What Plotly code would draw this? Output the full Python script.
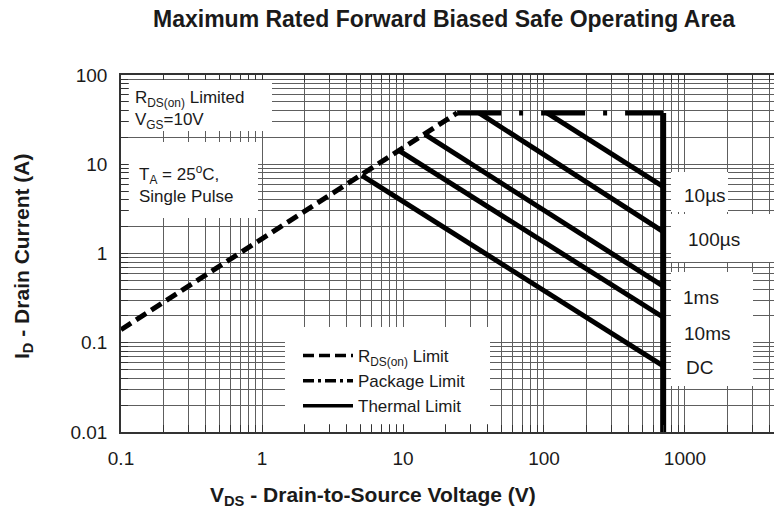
import plotly.graph_objects as go

# values
rds_vds = [0.1, 24.2]      # R_DS(on) limit, V
rds_id = [0.14, 37.6]      # A

pkg_vds = [24.2, 700]      # package limit
pkg_id = [37.6, 37.6]

bv_vds = [700, 700]        # drain voltage edge
bv_id = [37.6, 0.01]

pulse_names = ["10µs", "100µs", "1ms", "10ms", "DC"]
pulse_vds_start = [105, 34.6, 14.3, 9.5, 5.1]
pulse_id_start = [37.6, 37.6, 21.6, 14.0, 7.5]
pulse_vds_end = [700, 700, 700, 700, 700]
pulse_id_end = [5.6, 1.76, 0.43, 0.193, 0.055]

x_labels = ["0.1", "1", "10", "100", "1000"]
y_labels = ["0.01", "0.1", "1", "10", "100"]

FONT = "Arial, Liberation Sans, sans-serif"
INK = "#1a1a1a"

# the page body has an 8px margin, so the figure is drawn 8px smaller
OFF = 8
W, H = 782 - OFF, 515 - OFF
# plot area in page pixels (left, top, right, bottom)
L, T, R, B = 121, 75, 782, 432


def px(x):
    return (x - L) / (R - L)


def py(y):
    return (B - y) / (B - T)


# log grid: every 1..9 x decade
xgrid = [m * 10.0 ** e for e in range(-1, 4) for m in range(1, 10)]
ygrid = [m * 10.0 ** e for e in range(-2, 3) for m in range(1, 10) if m * 10.0 ** e <= 100]
xtext = [x_labels[i // 9] if i % 9 == 0 else "" for i in range(len(xgrid))]
ytext = [y_labels[i // 9] if i % 9 == 0 else "" for i in range(len(ygrid))]

fig = go.Figure()

fig.add_trace(go.Scatter(x=rds_vds, y=rds_id, mode="lines", showlegend=False,
                         line=dict(color="black", width=5, dash="12px,6px")))
fig.add_trace(go.Scatter(x=pkg_vds, y=pkg_id, mode="lines", showlegend=False,
                         line=dict(color="black", width=5, dash="44px,18px,4px,18px")))
for i, name in enumerate(pulse_names):
    fig.add_trace(go.Scatter(x=[pulse_vds_start[i], pulse_vds_end[i]],
                             y=[pulse_id_start[i], pulse_id_end[i]],
                             mode="lines", showlegend=False, name=name,
                             line=dict(color="black", width=5)))
fig.add_trace(go.Scatter(x=bv_vds, y=bv_id, mode="lines", showlegend=False,
                         line=dict(color="black", width=6)))

# legend entries only
fig.add_trace(go.Scatter(x=[None], y=[None], mode="lines", name="R<sub>DS(on)</sub> Limit",
                         line=dict(color="black", width=3.5, dash="11px,5px")))
fig.add_trace(go.Scatter(x=[None], y=[None], mode="lines", name="Package Limit",
                         line=dict(color="black", width=3.5, dash="11px,4px,3px,4px")))
fig.add_trace(go.Scatter(x=[None], y=[None], mode="lines", name="Thermal Limit",
                         line=dict(color="black", width=3.5)))

# white boxes behind the notes; they sit clear of the curves
boxes = [(129, 80, 272, 131), (129, 142, 258, 218), (285, 327, 490, 424),
         (671, 172, 728, 212), (671, 214, 775, 262), (671, 272, 753, 314),
         (671, 314, 753, 350), (671, 350, 753, 386)]
for x0, y0, x1, y1 in boxes:
    fig.add_shape(type="rect", xref="paper", yref="paper", layer="above",
                  x0=px(x0), x1=px(x1), y0=py(y1), y1=py(y0),
                  fillcolor="white", line=dict(width=0))

ann = []
ann.append(dict(text="R<sub>DS(on)</sub> Limited<br>V<sub>GS</sub>=10V", x=px(133), y=py(110),
                xanchor="left", yanchor="middle", align="left", font=dict(size=17)))
ann.append(dict(text="T<sub>A</sub> = 25<sup>o</sup>C,<br>Single Pulse", x=px(137), y=py(184),
                xanchor="left", yanchor="middle", align="left", font=dict(size=17)))
label_x = [682, 686, 681, 682, 684]
label_y = [195, 239, 297, 333, 367]
for name, lx, ly in zip(pulse_names, label_x, label_y):
    ann.append(dict(text=name, x=px(lx), y=py(ly), xanchor="left", yanchor="middle",
                    font=dict(size=19)))
ann.append(dict(text="<b>V<sub>DS</sub> - Drain-to-Source Voltage (V)</b>", x=px(373), y=py(496),
                xanchor="center", yanchor="middle", font=dict(size=21)))
ann.append(dict(text="<b>I<sub>D</sub> - Drain Current (A)</b>", x=px(23), y=py(257),
                xanchor="center", yanchor="middle", textangle=-90, font=dict(size=21)))
for a in ann:
    a.update(xref="paper", yref="paper", showarrow=False)
    a["font"].update(family=FONT, color=INK)

axis_common = dict(type="log", showgrid=True, gridcolor="#5e5e5e", gridwidth=1,
                   ticks="inside", ticklen=7, tickcolor="#333", tickwidth=1,
                   showline=True, linecolor="#333", linewidth=1.5, mirror="ticks",
                   zeroline=False, automargin=False,
                   tickfont=dict(family=FONT, size=19, color=INK))

fig.update_xaxes(range=[-1, 3.688], tickmode="array", tickvals=xgrid, ticktext=xtext,
                 ticklabelstandoff=8, **axis_common)
fig.update_yaxes(range=[-2, 2], tickmode="array", tickvals=ygrid, ticktext=ytext,
                 ticklabelstandoff=8, **axis_common)

fig.update_layout(
    width=W, height=H,
    margin=dict(l=L - OFF, r=782 - R, t=T - OFF, b=515 - B),
    paper_bgcolor="white", plot_bgcolor="white",
    font=dict(family=FONT, color=INK),
    title=dict(text="<b>Maximum Rated Forward Biased Safe Operating Area</b>",
               x=(444 - OFF) / W, xanchor="center", y=1 - (19 - OFF) / H, yanchor="middle",
               font=dict(size=23, family=FONT, color=INK)),
    legend=dict(x=px(298), y=py(338), xanchor="left", yanchor="top",
                bgcolor="rgba(0,0,0,0)", font=dict(size=17, family=FONT, color=INK),
                itemwidth=50, tracegroupgap=0),
    annotations=ann,
)

fig.write_html("out.html")
